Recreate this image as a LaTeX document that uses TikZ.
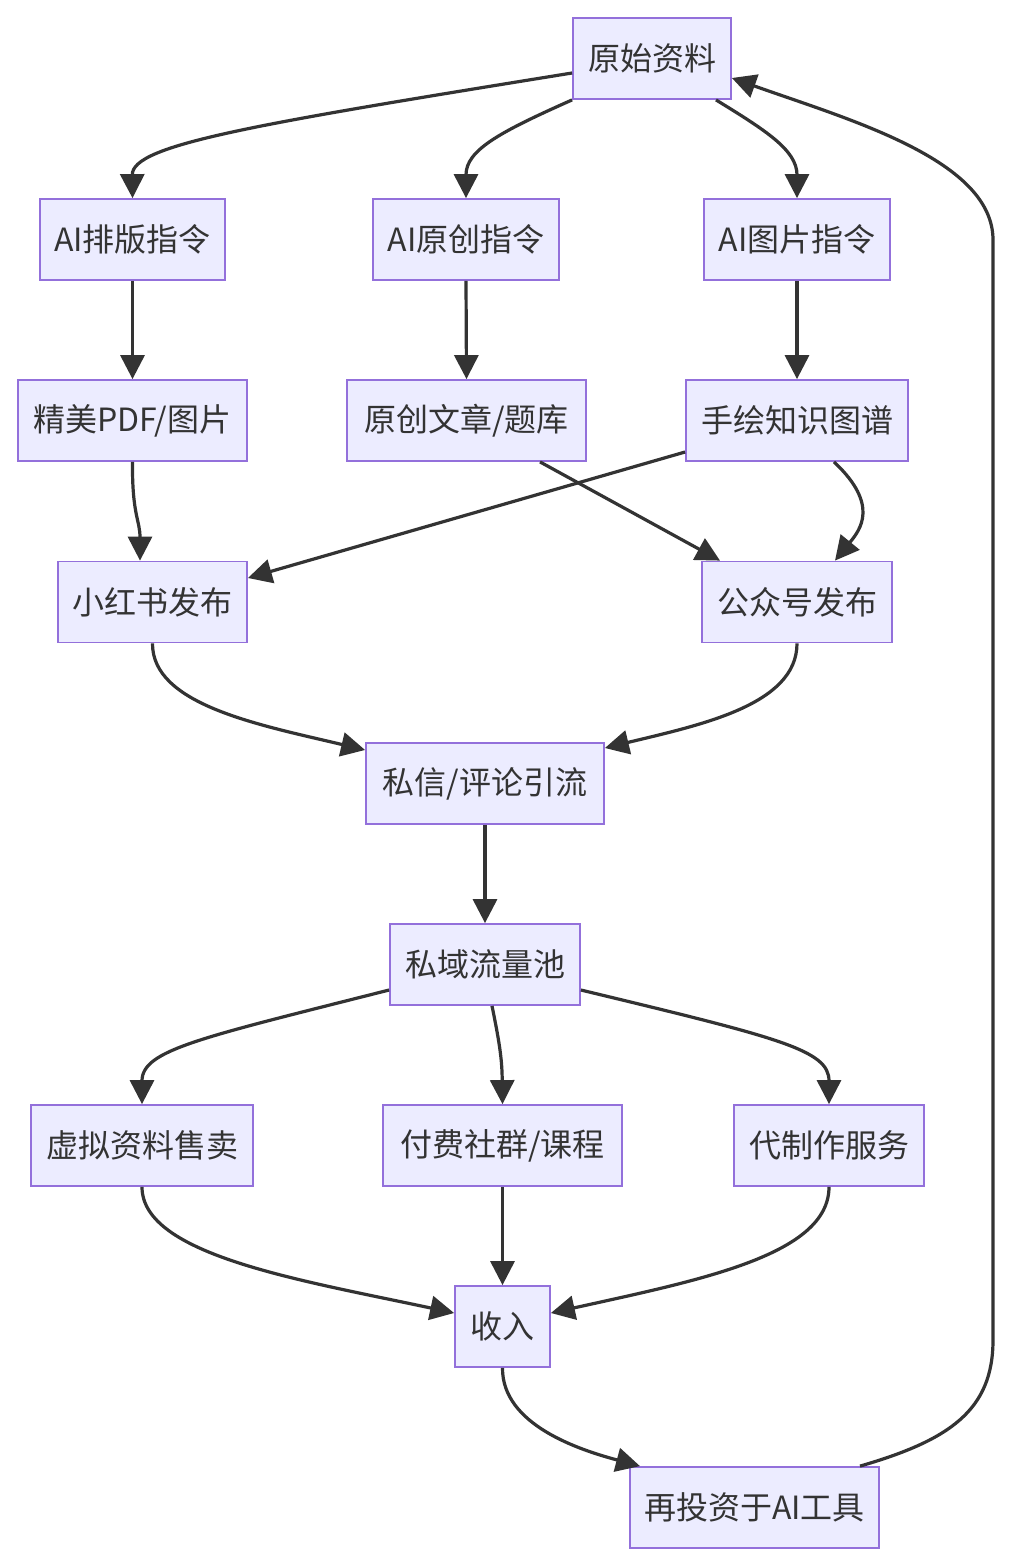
\documentclass[tikz,border=0pt]{standalone}
\usepackage{fontspec}
\newfontfamily\cjk{Noto Sans CJK SC}
\usetikzlibrary{arrows.meta}
\definecolor{nodefill}{HTML}{ECECFF}
\definecolor{nodeline}{HTML}{9370DB}
\definecolor{edgecol}{HTML}{333333}
\begin{document}
\begin{tikzpicture}[x=1pt,y=-1pt,
  box/.style={draw=nodeline,fill=nodefill,line width=1.8pt,inner sep=0pt,
    minimum height=81pt,font=\cjk\fontsize{32}{36}\selectfont,text=edgecol},
  edge/.style={draw=edgecol,line width=3.2pt,-{Triangle[length=24pt,width=24pt]}}]
\useasboundingbox[fill=white] (0,0) rectangle (1010,1564);
\node[box,minimum width=158pt] (src) at (652,58.5) {原始资料};
\node[box,minimum width=185pt] (pb) at (132.5,239.5) {AI排版指令};
\node[box,minimum width=186pt] (yc) at (466,239.5) {AI原创指令};
\node[box,minimum width=186pt] (tp) at (797,239.5) {AI图片指令};
\node[box,minimum width=229pt] (pdf) at (132.5,420.5) {精美PDF/图片};
\node[box,minimum width=239pt] (art) at (466.5,420.5) {原创文章/题库};
\node[box,minimum width=222pt] (sh) at (797,420.5) {手绘知识图谱};
\node[box,minimum width=189pt] (xhs) at (152.5,602) {小红书发布};
\node[box,minimum width=190pt] (gzh) at (797,602) {公众号发布};
\node[box,minimum width=238pt] (ps) at (485,783.5) {私信/评论引流};
\node[box,minimum width=190pt] (sy) at (485,964.5) {私域流量池};
\node[box,minimum width=222pt] (xn) at (142,1145.5) {虚拟资料售卖};
\node[box,minimum width=239pt] (fee) at (502.5,1145.5) {付费社群/课程};
\node[box,minimum width=190pt] (dz) at (829,1145.5) {代制作服务};
\node[box,minimum width=95pt] (inc) at (502.5,1326.5) {收入};
\node[box,minimum width=249pt] (re) at (754.5,1507.5) {再投资于AI工具};

\path[edge] ([yshift=-14.5pt]src.west) .. controls (250,125) and (132,145) .. (pb.north);
\path[edge] (src.south west) .. controls (500,132) and (466,150) .. (yc.north);
\path[edge] ([xshift=64pt]src.south) .. controls (765,130) and (797,150) .. (tp.north);
\path[edge] (pb.south) -- (pdf.north);
\path[edge] (yc.south) -- (art.north);
\path[edge] (tp.south) -- (sh.north);
\path[edge] (pdf.south) .. controls (132,515) and (140,520) .. ([xshift=-12.5pt]xhs.north);
\path[edge] ([xshift=73.5pt]art.south) -- ([xshift=-77pt]gzh.north);
\path[edge] ([yshift=-31.5pt]sh.west) -- ([yshift=24pt]xhs.east);
\path[edge] ([xshift=37pt]sh.south) .. controls (880,505) and (860,530) .. ([xshift=38pt]gzh.north);
\path[edge] (xhs.south) .. controls (152,705) and (260,725) .. ([yshift=33.5pt]ps.west);
\path[edge] (gzh.south) .. controls (797,705) and (700,725) .. ([yshift=35.5pt]ps.east);
\path[edge] (ps.south) -- (sy.north);
\path[edge] ([yshift=-25.5pt]sy.west) .. controls (200,1038) and (142,1050) .. (xn.north);
\path[edge] ([xshift=7pt]sy.south) .. controls (500,1045) and (502,1060) .. (fee.north);
\path[edge] ([yshift=-25.5pt]sy.east) .. controls (780,1038) and (829,1050) .. (dz.north);
\path[edge] (xn.south) .. controls (142,1255) and (300,1280) .. ([yshift=13.5pt]inc.west);
\path[edge] (fee.south) -- (inc.north);
\path[edge] (dz.south) .. controls (829,1255) and (700,1280) .. ([yshift=13.5pt]inc.east);
\path[edge] (inc.south) .. controls (502,1425) and (580,1450) .. ([xshift=-114.5pt]re.north);
\path[edge] ([xshift=105.5pt]re.north) .. controls (950,1440) and (993,1410) .. (993,1340)
  -- (993,240) .. controls (993,160) and (850,120) .. ([yshift=-19.5pt]src.east);
\end{tikzpicture}
\end{document}
